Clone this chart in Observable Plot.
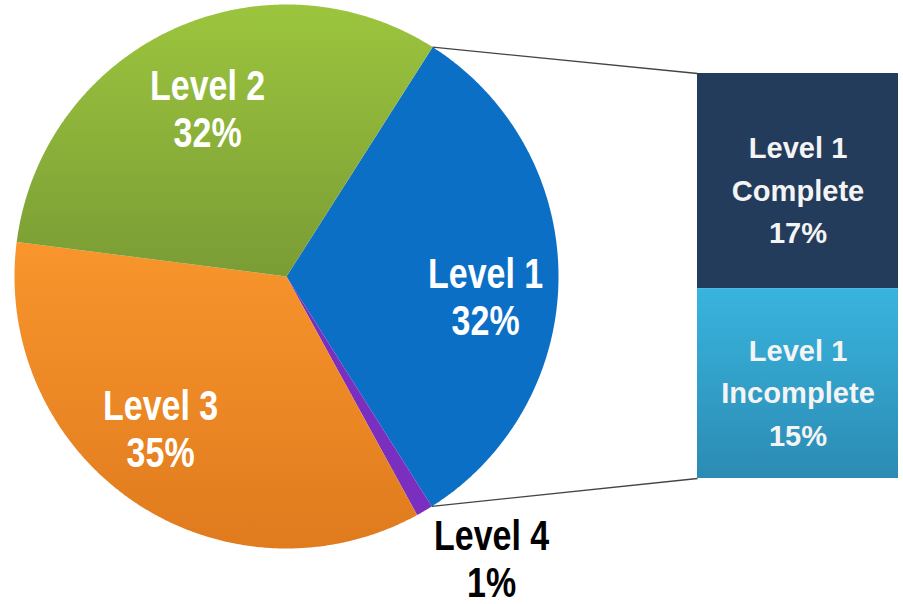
<!DOCTYPE html>
<html><head><meta charset="utf-8">
<script src="https://cdn.jsdelivr.net/npm/d3@7"></script>
<script src="https://cdn.jsdelivr.net/npm/@observablehq/plot@0.6"></script>
<style>body{margin:0;background:#fff} svg{display:block}</style>
</head><body><div id="chart"></div>
<script>
// ---- data ----
const levels = ["Level 1", "Level 4", "Level 3", "Level 2"];
const shares = [32, 1, 35, 32];
const subLabels = ["Level 1\nComplete", "Level 1\nIncomplete"];
const subShares = [17, 15];

// ---- layout / style ----
const W = 903, H = 604, R = 272, CX = 286, CY = 276;
const startDeg = 32.5;
const fills = {"Level 1": "#0b6fc6", "Level 4": "#7a2fbf", "Level 3": "url(#gOrange)", "Level 2": "url(#gGreen)"};
const subFills = ["#233c5c", "url(#gLight)"];
const labelPx = {"Level 1": [485, 296], "Level 2": [207, 108], "Level 3": [160, 428], "Level 4": [491, 558]};
const box = {x0: 697, x1: 898, top: 73, bottom: 478};

const px = v => (v - CX) / R;
const py = v => (CY - v) / R;
const polar = (deg, r) => { const t = deg * Math.PI / 180; return [r * Math.sin(t), r * Math.cos(t)]; };

const total = d3.sum(shares);
let acc = 0;
const slices = levels.map((name, i) => {
  const a0 = startDeg + acc / total * 360; acc += shares[i];
  const a1 = startDeg + acc / total * 360;
  return {name, value: shares[i], a0, a1};
});
const slicePts = slices.map(s => {
  const pts = [{x: 0, y: 0}];
  const n = Math.max(2, Math.ceil((s.a1 - s.a0) / 0.4));
  for (let k = 0; k <= n; k++) { const [x, y] = polar(s.a0 + (s.a1 - s.a0) * k / n, 1); pts.push({x, y}); }
  pts.push({x: 0, y: 0});
  return pts;
});

// stacked box for Level 1 breakdown
const subTotal = d3.sum(subShares);
const bTop = py(box.top), bBot = py(box.bottom);
let c = 0;
const subRects = subShares.map((v, i) => {
  const y1 = bTop - c / subTotal * (bTop - bBot); c += v;
  const y2 = bTop - c / subTotal * (bTop - bBot);
  return {label: subLabels[i] + "\n" + v + "%", y1, y2, fill: subFills[i]};
});

const l1 = slices[0];
const [sx0, sy0] = polar(l1.a0, 1), [sx1, sy1] = polar(l1.a1, 1);
const links = [
  {x1: sx0, y1: sy0, x2: px(box.x0), y2: bTop},
  {x1: sx1, y1: sy1, x2: px(box.x0), y2: bBot}
];

const pieLabels = slices.map(s => ({
  text: s.name + "\n" + s.value + "%",
  x: px(labelPx[s.name][0]), y: py(labelPx[s.name][1]),
  color: s.name === "Level 4" ? "#000" : "#fff"
}));

const marks = [
  ...slices.map((s, i) => Plot.line(slicePts[i], {x: "x", y: "y", fill: fills[s.name], stroke: "none", curve: "linear"})),
  Plot.link(links, {x1: "x1", y1: "y1", x2: "x2", y2: "y2", stroke: "#444", strokeWidth: 1.3}),
  ...subRects.map(r => Plot.rect([r], {x1: px(box.x0), x2: px(box.x1), y1: "y1", y2: "y2", fill: r.fill})),
  Plot.text(subRects, {x: px((box.x0 + box.x1) / 2), y: d => (d.y1 + d.y2) / 2, text: "label", dy: 6,
    fill: "#f4f4f4", fontSize: 30, fontWeight: "bold", fontFamily: "Liberation Sans, Arial, sans-serif", lineHeight: 1.42}),
  Plot.text(pieLabels, {x: "x", y: "y", text: "text", fill: d => d.color,
    fontSize: 43, fontWeight: "bold", fontFamily: "Liberation Sans, Arial, sans-serif", lineHeight: 1.08})
];

const chart = Plot.plot({
  width: W, height: H, margin: 0,
  x: {domain: [px(0), px(W)], range: [0, W], axis: null},
  y: {domain: [py(H), py(0)], range: [H, 0], axis: null},
  style: {background: "#fff"},
  marks
});

const defs = d3.select(chart).insert("defs", ":first-child");
function grad(id, c0, c1) {
  const g = defs.append("linearGradient").attr("id", id).attr("x1", 0).attr("y1", 0).attr("x2", 0).attr("y2", 1);
  g.append("stop").attr("offset", "0%").attr("stop-color", c0);
  g.append("stop").attr("offset", "100%").attr("stop-color", c1);
}
grad("gGreen", "#9cc53e", "#7a9c35");
grad("gOrange", "#f9952c", "#e07b1e");
grad("gLight", "#38b4de", "#2c8bb3");

document.getElementById("chart").appendChild(chart);

// condense text horizontally (the reference uses a narrow face)
const svgRect = chart.getBoundingClientRect();
const groups = d3.select(chart).selectAll('g[aria-label="text"]').nodes();
const condense = [0.97, 0.79];
groups.forEach((g, gi) => {
  d3.select(g).selectAll("text").each(function() {
    const r = this.getBoundingClientRect();
    const cx = r.left + r.width / 2 - svgRect.left;
    const wrap = document.createElementNS("http://www.w3.org/2000/svg", "g");
    wrap.setAttribute("transform", `translate(${cx},0) scale(${condense[gi]},1) translate(${-cx},0)`);
    this.parentNode.insertBefore(wrap, this);
    wrap.appendChild(this);
  });
});
</script>
</body></html>
